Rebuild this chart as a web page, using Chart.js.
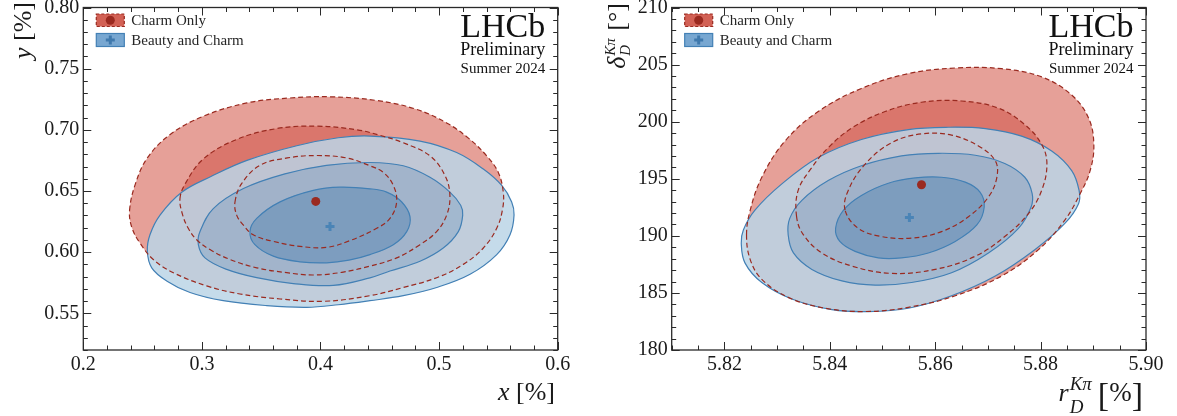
<!DOCTYPE html>
<html>
<head>
<meta charset="utf-8">
<script src="https://cdn.jsdelivr.net/npm/chart.js@4.4.1/dist/chart.umd.min.js"></script>
<style>
  html, body { margin: 0; padding: 0; background: #fff; }
  #wrap { position: relative; width: 1177px; height: 416px; overflow: hidden; }
  #left { position: absolute; left: 0; top: 0; }
  #right { position: absolute; left: 600px; top: 0; }
</style>
</head>
<body>
<div id="wrap">
  <canvas id="left" width="600" height="416"></canvas>
  <canvas id="right" width="577" height="416"></canvas>
</div>
<script>
// ---- axes ----
const leftXRange = [0.2, 0.6];
const leftYRange = [0.52, 0.80];
const leftXTickLabels = ['0.2', '0.3', '0.4', '0.5', '0.6'];
const leftYTickLabels = ['0.55', '0.60', '0.65', '0.70', '0.75', '0.80'];
const leftMinorSteps = [0.02, 0.01];

const rightXRange = [5.81, 5.90];
const rightYRange = [180, 210];
const rightXTickLabels = ['5.82', '5.84', '5.86', '5.88', '5.90'];
const rightYTickLabels = ['180', '185', '190', '195', '200', '205', '210'];
const rightMinorSteps = [0.005, 1];

const legendLabels = ['Charm Only', 'Beauty and Charm'];

// ---- x [%] vs y [%] contours (1, 2, 3 sigma) ----
const leftCharm1 = [[0.3279,0.641],[0.3335,0.656],[0.349,0.671],[0.372,0.677],[0.397,0.679],[0.422,0.677],[0.4417,0.6706],[0.453,0.6652],[0.4614,0.6545],[0.4642,0.641],[0.4586,0.6276],[0.4474,0.6195],[0.425,0.6095],[0.4052,0.6039],[0.3827,0.6047],[0.3602,0.6088],[0.3433,0.6142],[0.3349,0.6222],[0.3293,0.6303]];
const leftCharm2 = [[0.2815,0.6437],[0.286,0.656],[0.301,0.676],[0.329,0.692],[0.363,0.701],[0.397,0.703],[0.431,0.700],[0.450,0.6955],[0.4698,0.6894],[0.4923,0.6787],[0.505,0.6626],[0.5091,0.6464],[0.5064,0.6303],[0.4979,0.6168],[0.4839,0.6061],[0.4642,0.5953],[0.4417,0.5886],[0.418,0.5835],[0.3939,0.5813],[0.3715,0.5832],[0.3462,0.5872],[0.3237,0.594],[0.3068,0.6021],[0.2956,0.6101],[0.2885,0.6195],[0.2838,0.6303]];
const leftCharm3 = [[0.239,0.634],[0.244,0.656],[0.254,0.677],[0.273,0.696],[0.301,0.711],[0.338,0.722],[0.374,0.726],[0.408,0.727],[0.447,0.724],[0.480,0.717],[0.5064,0.7056],[0.5261,0.6921],[0.5401,0.6787],[0.5499,0.6652],[0.5541,0.6491],[0.5536,0.6356],[0.5486,0.6195],[0.5373,0.6034],[0.5204,0.590],[0.498,0.5791],[0.4698,0.5711],[0.4417,0.5644],[0.4024,0.5598],[0.3659,0.5617],[0.3321,0.5658],[0.304,0.5724],[0.2759,0.5832],[0.259,0.594],[0.2478,0.6074],[0.241,0.620]];
const leftBeauty1 = [[0.3405,0.6168],[0.3447,0.6061],[0.3602,0.5967],[0.3827,0.5921],[0.4052,0.5913],[0.424,0.5935],[0.4417,0.598],[0.4614,0.6061],[0.4727,0.6168],[0.4755,0.6289],[0.4685,0.641],[0.4558,0.6491],[0.4417,0.6518],[0.4164,0.6531],[0.3939,0.6505],[0.3659,0.6411],[0.3462,0.6276]];
const leftBeauty2 = [[0.297,0.6061],[0.3026,0.5953],[0.3209,0.5859],[0.3462,0.5791],[0.3771,0.5743],[0.4108,0.5728],[0.4417,0.579],[0.4586,0.5846],[0.4839,0.5926],[0.5035,0.6034],[0.5162,0.6168],[0.5199,0.6303],[0.5182,0.6384],[0.5091,0.6491],[0.4923,0.6612],[0.4698,0.6706],[0.4417,0.6733],[0.405,0.671],[0.370,0.664],[0.335,0.652],[0.3096,0.6356],[0.2984,0.6168]];
const leftBeauty3 = [[0.254,0.6007],[0.2577,0.5872],[0.2703,0.5765],[0.290,0.567],[0.318,0.5603],[0.3546,0.5563],[0.3884,0.5549],[0.415,0.557],[0.4417,0.5603],[0.4698,0.5644],[0.498,0.5711],[0.5261,0.5819],[0.5486,0.598],[0.5598,0.6142],[0.5632,0.6303],[0.5612,0.641],[0.5528,0.6545],[0.5373,0.6679],[0.5148,0.6814],[0.4839,0.6908],[0.4417,0.6949],[0.415,0.6935],[0.380,0.687],[0.338,0.675],[0.308,0.662],[0.283,0.649],[0.2647,0.6303],[0.2562,0.6142]];
const leftBestCharm = [0.396, 0.6415];
const leftBestBeauty = [0.408, 0.621];

// ---- r_D [%] vs delta_D [deg] contours ----
const rightCharm1 = [[5.8429,192.25],[5.8435,193.98],[5.8467,196.28],[5.8517,198.15],[5.8574,198.93],[5.8631,198.82],[5.8682,197.87],[5.8714,196.57],[5.8717,195.13],[5.8701,193.40],[5.8663,191.67],[5.8612,190.37],[5.8555,189.80],[5.8498,189.94],[5.8454,190.66]];
const rightCharm2 = [[5.8337,191.67],[5.8340,193.98],[5.8366,195.99],[5.8397,197.72],[5.8442,199.45],[5.8505,200.89],[5.8574,201.70],[5.8650,201.81],[5.8720,201.18],[5.8770,199.74],[5.8802,198.01],[5.8812,196.28],[5.8802,193.98],[5.8777,191.95],[5.8732,189.94],[5.8676,188.21],[5.8600,187.06],[5.8517,186.71],[5.8442,187.35],[5.8385,188.50],[5.8350,190.09]];
const rightCharm3 = [[5.8242,190.09],[5.8249,192.25],[5.8271,195.13],[5.8315,198.30],[5.8378,200.89],[5.8460,202.91],[5.8549,204.21],[5.8638,204.70],[5.8726,204.64],[5.8802,203.92],[5.8859,202.33],[5.8891,200.32],[5.8901,198.01],[5.8894,195.71],[5.8875,193.69],[5.8846,191.38],[5.8796,188.79],[5.8726,186.48],[5.8638,184.75],[5.8549,183.74],[5.8467,183.37],[5.8391,183.66],[5.8321,184.61],[5.8271,186.19],[5.8249,187.92]];
const rightBeauty1 = [[5.8411,190.66],[5.8419,189.51],[5.8448,188.64],[5.8492,188.07],[5.8536,188.07],[5.8587,188.50],[5.8638,189.51],[5.8679,190.95],[5.8693,192.53],[5.8685,193.83],[5.8657,194.70],[5.8612,195.13],[5.8562,195.07],[5.8511,194.61],[5.8460,193.54],[5.8426,192.25]];
const rightBeauty2 = [[5.8321,190.09],[5.8331,188.50],[5.8366,187.06],[5.8423,186.05],[5.8486,185.68],[5.8555,185.91],[5.8631,186.77],[5.8701,188.50],[5.8758,190.66],[5.8782,192.53],[5.8784,193.69],[5.8770,195.13],[5.8732,196.34],[5.8676,197.06],[5.8606,197.23],[5.8536,197.00],[5.8460,196.14],[5.8397,194.84],[5.8347,193.11],[5.8324,191.53]];
const rightBeauty3 = [[5.8232,189.36],[5.8239,187.63],[5.8271,185.91],[5.8328,184.47],[5.8404,183.54],[5.8473,183.37],[5.8549,183.66],[5.8631,184.75],[5.8714,186.48],[5.8789,188.79],[5.8846,191.09],[5.8872,192.82],[5.8873,193.98],[5.8859,195.71],[5.8821,197.43],[5.8764,198.73],[5.8695,199.39],[5.8625,199.51],[5.8549,199.31],[5.8460,198.44],[5.8378,196.86],[5.8309,194.55],[5.8258,192.25],[5.8236,190.52]];
const rightBestCharm = [5.8574, 194.47];
const rightBestBeauty = [5.8551, 191.61];

const SERIF = '"Liberation Serif", "Times New Roman", "DejaVu Serif", serif';
const RED_LINE = '#9a2a20';
const BLUE_LINE = '#4380b5';

const isMajor = (v, labels) => labels.some(l => Math.abs(Number(l) - v) < 1e-6);
const toPts = arr => arr.map(([x, y]) => ({ x, y }));

// chart.js has no closed cartesian curve, so mark contour lines as loops
const closeContours = {
  id: 'closeContours',
  afterDatasetsUpdate(chart) {
    chart.data.datasets.forEach((ds, i) => {
      if (!ds.closed) return;
      const line = chart.getDatasetMeta(i).dataset;
      if (!line) return;
      line._loop = true;
      line._fullLoop = true;
      line._pointsUpdated = false;
      delete line._segments;
      line._path = undefined;
    });
  }
};

function drawMath(ctx, parts) {
  // right aligned: text ends at x = 0, baseline y = 0
  const sized = parts.map(p => {
    if (p.sup !== undefined) {
      ctx.font = `italic ${p.size}px ${SERIF}`;
      return { ...p, w: Math.max(ctx.measureText(p.sup).width, ctx.measureText(p.sub).width) + 2 };
    }
    ctx.font = `${p.it ? 'italic ' : ''}${p.size}px ${SERIF}`;
    return { ...p, w: ctx.measureText(p.t).width };
  });
  let x = -sized.reduce((s, p) => s + p.w, 0);
  ctx.textAlign = 'left';
  ctx.textBaseline = 'alphabetic';
  sized.forEach(p => {
    if (p.sup !== undefined) {
      ctx.font = `italic ${p.size}px ${SERIF}`;
      ctx.fillText(p.sup, x + 1, p.supDy);
      ctx.fillText(p.sub, x + 1, p.subDy);
    } else {
      ctx.font = `${p.it ? 'italic ' : ''}${p.size}px ${SERIF}`;
      ctx.fillText(p.t, x, p.dy || 0);
    }
    x += p.w;
  });
}

function plusMark(ctx, x, y, r, w, color) {
  ctx.strokeStyle = color;
  ctx.lineWidth = w;
  ctx.beginPath();
  ctx.moveTo(x - r, y); ctx.lineTo(x + r, y);
  ctx.moveTo(x, y - r); ctx.lineTo(x, y + r);
  ctx.stroke();
}

// inward ticks on all four sides, frame, legend, LHCb tag, axis titles
const decor = {
  id: 'decor',
  afterDraw(chart, args, o) {
    const { ctx, chartArea: a, scales: { x, y } } = chart;
    ctx.save();
    ctx.strokeStyle = '#2a2a2a';
    ctx.lineWidth = 1;
    ctx.beginPath();
    x.ticks.forEach(t => {
      const px = Math.round(x.getPixelForValue(t.value)) + 0.5;
      const len = isMajor(t.value, o.xLabels) ? 8 : 4.5;
      ctx.moveTo(px, a.bottom); ctx.lineTo(px, a.bottom - len);
      ctx.moveTo(px, a.top); ctx.lineTo(px, a.top + len);
    });
    y.ticks.forEach(t => {
      const py = Math.round(y.getPixelForValue(t.value)) + 0.5;
      const len = isMajor(t.value, o.yLabels) ? 8 : 4.5;
      ctx.moveTo(a.left, py); ctx.lineTo(a.left + len, py);
      ctx.moveTo(a.right, py); ctx.lineTo(a.right - len, py);
    });
    ctx.stroke();
    ctx.lineWidth = 1.3;
    ctx.strokeRect(a.left, a.top, a.right - a.left, a.bottom - a.top);

    // legend
    const lx = a.left + 13;
    const rows = [14, 33.5];
    ctx.fillStyle = 'rgba(200,62,48,0.82)';
    ctx.fillRect(lx, rows[0], 28, 12.5);
    ctx.setLineDash([3, 2]);
    ctx.strokeStyle = RED_LINE;
    ctx.lineWidth = 1.2;
    ctx.strokeRect(lx, rows[0], 28, 12.5);
    ctx.setLineDash([]);
    ctx.fillStyle = RED_LINE;
    ctx.beginPath();
    ctx.arc(lx + 14, rows[0] + 6.25, 4.5, 0, Math.PI * 2);
    ctx.fill();
    ctx.fillStyle = 'rgba(82,142,196,0.78)';
    ctx.fillRect(lx, rows[1], 28, 13);
    ctx.strokeStyle = BLUE_LINE;
    ctx.lineWidth = 1.2;
    ctx.strokeRect(lx, rows[1], 28, 13);
    plusMark(ctx, lx + 14, rows[1] + 6.5, 4.5, 3, '#3f79ad');
    ctx.fillStyle = '#262626';
    ctx.font = `15px ${SERIF}`;
    ctx.textAlign = 'left';
    ctx.textBaseline = 'alphabetic';
    ctx.fillText(legendLabels[0], lx + 35, rows[0] + 10.8);
    ctx.fillText(legendLabels[1], lx + 35, rows[1] + 11.5);

    // LHCb tag
    const tx = a.right - 12.5;
    ctx.fillStyle = '#111';
    ctx.textAlign = 'right';
    ctx.font = `34px ${SERIF}`;
    ctx.fillText('LHCb', tx, 37);
    ctx.font = `18px ${SERIF}`;
    ctx.fillText('Preliminary', tx, 55);
    ctx.font = `15px ${SERIF}`;
    ctx.fillText('Summer 2024', tx, 72.5);

    // axis titles
    ctx.fillStyle = '#1a1a1a';
    ctx.save();
    ctx.translate(o.xTitle.at[0], o.xTitle.at[1]);
    drawMath(ctx, o.xTitle.parts);
    ctx.restore();
    ctx.save();
    ctx.translate(o.yTitle.at[0], o.yTitle.at[1]);
    ctx.rotate(-Math.PI / 2);
    drawMath(ctx, o.yTitle.parts);
    ctx.restore();
    ctx.restore();
  }
};

function buildDatasets(charm, beauty, bestCharm, bestBeauty) {
  const sets = [];
  const redFill = ['rgba(205,65,50,0.43)', 'rgba(205,65,50,0.43)', 'rgba(205,65,50,0.5)'];
  const blueFill = ['rgba(90,135,180,0.5)', 'rgba(100,140,185,0.32)', 'rgba(188,213,231,0.86)'];
  charm.forEach((c, i) => sets.push({
    label: legendLabels[0], data: toPts(c), closed: true, fill: 'shape',
    backgroundColor: redFill[i], borderWidth: 0, order: 5 + i
  }));
  beauty.forEach((b, i) => sets.push({
    label: legendLabels[1], data: toPts(b), closed: true, fill: 'shape',
    backgroundColor: blueFill[i], borderColor: BLUE_LINE, borderWidth: 1.2, order: 2 + i
  }));
  charm.forEach(c => sets.push({
    label: legendLabels[0], data: toPts(c), closed: true, fill: false,
    borderColor: RED_LINE, borderWidth: 1.2, borderDash: [5, 3], order: 1
  }));
  sets.push({
    label: legendLabels[0], data: [{ x: bestCharm[0], y: bestCharm[1] }], showLine: false,
    pointRadius: 4.5, pointStyle: 'circle', pointBackgroundColor: RED_LINE, pointBorderWidth: 0, order: 0
  });
  sets.push({
    label: legendLabels[1], data: [{ x: bestBeauty[0], y: bestBeauty[1] }], showLine: false,
    pointRadius: 4.5, pointStyle: 'cross', pointBorderColor: '#4a84b6', pointBorderWidth: 3, order: 0
  });
  return sets;
}

function makeChart(id, cfg) {
  const tickFont = { family: SERIF, size: 20 };
  return new Chart(document.getElementById(id), {
    type: 'line',
    data: { datasets: buildDatasets(cfg.charm, cfg.beauty, cfg.bestCharm, cfg.bestBeauty) },
    options: {
      responsive: false,
      animation: false,
      events: [],
      layout: { padding: { top: 3, right: cfg.rightPad, left: 0, bottom: 0 } },
      elements: { line: { tension: 0.38 }, point: { radius: 0, hitRadius: 0 } },
      spanGaps: true,
      plugins: {
        legend: { display: false },
        tooltip: { enabled: false },
        decor: { xLabels: cfg.xLabels, yLabels: cfg.yLabels, xTitle: cfg.xTitle, yTitle: cfg.yTitle }
      },
      scales: {
        x: {
          type: 'linear', min: cfg.xRange[0], max: cfg.xRange[1],
          border: { display: false }, grid: { display: false, drawTicks: false },
          ticks: {
            stepSize: cfg.steps[0], autoSkip: false, maxRotation: 0, padding: 3,
            color: '#1a1a1a', font: tickFont,
            callback: v => isMajor(v, cfg.xLabels) ? cfg.xLabels.find(l => Math.abs(Number(l) - v) < 1e-6) : ''
          },
          afterFit: s => { s.height = 66; s.paddingLeft = 0; s.paddingRight = 0; }
        },
        y: {
          type: 'linear', min: cfg.yRange[0], max: cfg.yRange[1],
          border: { display: false }, grid: { display: false, drawTicks: false },
          ticks: {
            stepSize: cfg.steps[1], autoSkip: false, padding: 4,
            color: '#1a1a1a', font: tickFont,
            callback: v => isMajor(v, cfg.yLabels) ? cfg.yLabels.find(l => Math.abs(Number(l) - v) < 1e-6) : ''
          },
          afterFit: s => { s.width = cfg.yAxisWidth; s.paddingTop = 0; s.paddingBottom = 0; }
        }
      }
    },
    plugins: [closeContours, decor]
  });
}

makeChart('left', {
  charm: [leftCharm1, leftCharm2, leftCharm3],
  beauty: [leftBeauty1, leftBeauty2, leftBeauty3],
  bestCharm: leftBestCharm, bestBeauty: leftBestBeauty,
  xRange: leftXRange, yRange: leftYRange, steps: leftMinorSteps,
  xLabels: leftXTickLabels, yLabels: leftYTickLabels,
  yAxisWidth: 83.3, rightPad: 42.3,
  xTitle: { at: [555, 400], parts: [{ t: 'x', it: true, size: 26 }, { t: ' [%]', size: 26 }] },
  yTitle: { at: [31, 2], parts: [{ t: 'y', it: true, size: 26 }, { t: ' [%]', size: 26 }] }
});

makeChart('right', {
  charm: [rightCharm1, rightCharm2, rightCharm3],
  beauty: [rightBeauty1, rightBeauty2, rightBeauty3],
  bestCharm: rightBestCharm, bestBeauty: rightBestBeauty,
  xRange: rightXRange, yRange: rightYRange, steps: rightMinorSteps,
  xLabels: rightXTickLabels, yLabels: rightYTickLabels,
  yAxisWidth: 71.7, rightPad: 31,
  xTitle: { at: [543, 401], parts: [
    { t: 'r', it: true, size: 26 },
    { sup: 'Kπ', sub: 'D', size: 19, supDy: -11, subDy: 12 },
    { t: ' ', size: 20 }, { t: '[', size: 34, dy: 5 }, { t: '%', size: 27 }, { t: ']', size: 34, dy: 5 }
  ] },
  yTitle: { at: [25, 3], parts: [
    { t: 'δ', it: true, size: 26 },
    { sup: 'Kπ', sub: 'D', size: 15, supDy: -10, subDy: 5 },
    { t: ' [°]', size: 26 }
  ] }
});
</script>
</body>
</html>
